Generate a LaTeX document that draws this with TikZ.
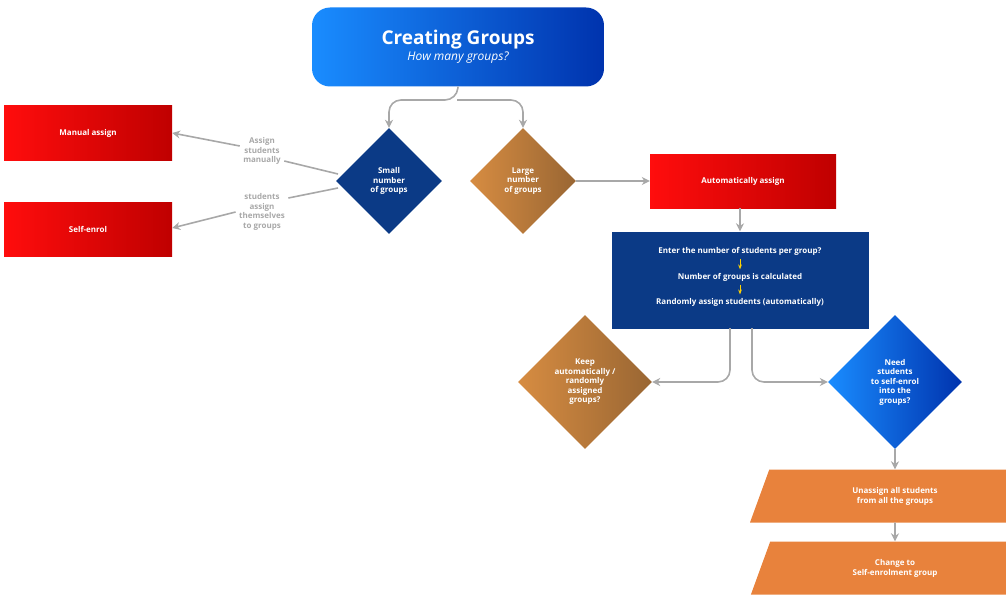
\documentclass[tikz,border=0pt]{standalone}
\usepackage{fontspec}
\setmainfont{Open Sans}
\usetikzlibrary{shapes.geometric,arrows.meta,positioning}
\definecolor{navy}{HTML}{0B3A86}
\definecolor{gry}{HTML}{A8A8A8}
\definecolor{org}{HTML}{E8823C}
\tikzset{
  box/.style={draw=none,minimum width=168pt,minimum height=54pt,text=white,font=\bfseries\fontsize{8}{10}\selectfont,align=center,left color=red!95!white,right color=red!75!black},
  dia/.style={diamond,draw=none,aspect=1,inner sep=0pt,text=white,font=\bfseries\fontsize{8}{9.5}\selectfont,align=center},
  para/.style={trapezium,trapezium left angle=70,trapezium right angle=110,fill=org,text=white,font=\bfseries\fontsize{8}{10}\selectfont,align=center,inner sep=0pt},
  lbl/.style={text=gry,font=\bfseries\fontsize{8}{9.5}\selectfont,align=center},
  conn/.style={draw=gry,line width=1.6pt,-{Stealth[length=8pt,width=8pt]}},
}
\begin{document}
\begin{tikzpicture}[x=1pt,y=-1pt]
  \useasboundingbox (0,0) rectangle (1006,599);
  % title
  \node[rounded corners=18pt,minimum width=292pt,minimum height=79pt,left color=blue!50!cyan!90!white,right color=blue!60!black!80!cyan,text=white,align=center] (title) at (458,47)
    {{\bfseries\fontsize{19}{22}\selectfont Creating Groups}\\[2pt]{\itshape\fontsize{12}{14}\selectfont How many groups?}};
  \node[box] (manual) at (88,133) {Manual assign};
  \node[box] (self) at (88,229) {Self-enrol};
  \node[dia,fill=navy,minimum size=106pt] (small) at (389,181) {Small\\number\\of groups};
  \node[dia,minimum size=106pt,left color=brown!70!orange!90!white,right color=brown!80!black] (large) at (523,181) {Large\\number\\of groups};
  \node[box,minimum width=186pt] (auto) at (743,181) {Automatically assign};
  \node[fill=navy,minimum width=257pt,minimum height=97pt] (calc) at (740,280) {};
  \node[text=white,font=\bfseries\fontsize{8}{10}\selectfont] (c1) at (740,251) {Enter the number of students per group?};
  \node[text=white,font=\bfseries\fontsize{8}{10}\selectfont] (c2) at (740,277) {Number of groups is calculated};
  \node[text=white,font=\bfseries\fontsize{8}{10}\selectfont] (c3) at (740,302) {Randomly assign students (automatically)};
  \node[dia,minimum size=134pt,left color=brown!70!orange!90!white,right color=brown!80!black] (keep) at (585,382) {Keep\\automatically /\\randomly\\assigned\\groups?};
  \node[dia,minimum size=134pt,left color=blue!50!cyan!90!white,right color=blue!60!black!80!cyan] (need) at (895,382) {Need\\students\\to self-enrol\\into the\\groups?};
  \node[para,minimum width=196pt,minimum height=53pt] (unassign) at (895,496) {Unassign all students\\from all the groups};
  \node[para,minimum width=212pt,minimum height=53pt] (change) at (895,568) {Change to\\Self-enrolment group};
  \node[lbl] (l1) at (262,151) {Assign\\students\\manually};
  \node[lbl] (l2) at (262,212) {students\\assign\\themselves\\to groups};
  \coordinate (split) at (457,100);
  % connectors
  \draw[conn,rounded corners=12pt] (title.south) -- (split) -| (small.north);
  \draw[conn,rounded corners=12pt] (split) -| (large.north);
  \draw[gry,line width=1.6pt] (338,174) -- (l1.east|-0,161);
  \draw[conn] (l1.west|-0,146) -- (manual.east|-0,133);
  \draw[gry,line width=1.6pt] (338,188) -- (l2.east|-0,198);
  \draw[conn] (l2.west|-0,212) -- (self.east|-0,228);
  \draw[conn] (large.east) -- (auto.west);
  \draw[conn] (auto.south-|calc.north) -- (calc.north);
  \draw[-{Stealth[length=5pt]},draw=yellow!70!orange,line width=1pt] (c1.south) -- (c2.north);
  \draw[-{Stealth[length=5pt]},draw=yellow!70!orange,line width=1pt] (c2.south) -- (c3.north);
  \draw[conn,rounded corners=12pt] (730,328) |- (keep.east);
  \draw[conn,rounded corners=12pt] (752,328) |- (need.west);
  \draw[conn] (need.south) -- (unassign.north);
  \draw[conn] (unassign.south) -- (change.north);
\end{tikzpicture}
\end{document}
